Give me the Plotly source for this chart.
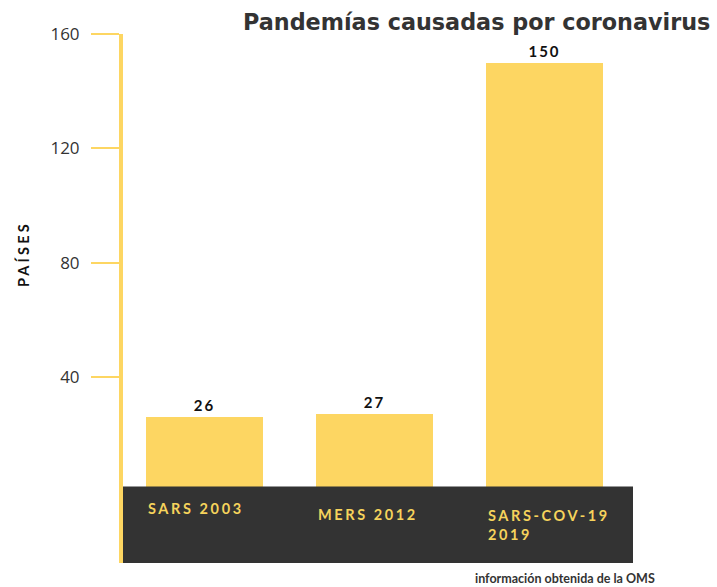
import plotly.graph_objects as go

categories = ["SARS 2003", "MERS 2012", "SARS-COV-19<br>2019"]
values = [26, 27, 150]
tick_values = [40, 80, 120, 160]
tick_labels = ["40", "80", "120", "160"]
band_label_y = [-6.0, -8.1, -11.6]

YELLOW = "#FDD662"
DARK = "#333333"
BAR_WIDTH = 0.69

fig = go.Figure()
fig.add_trace(go.Bar(
    x=[0, 1, 2],
    y=values,
    width=BAR_WIDTH,
    marker=dict(color=YELLOW, line=dict(width=0)),
    text=[f"<span style='letter-spacing:2px'>{v}</span>" for v in values],
    textposition="outside",
    textfont=dict(family="Lato", size=15, color="#111111", weight="bold"),
    cliponaxis=False,
    hoverinfo="skip",
))

# dark band under the bars
fig.add_shape(type="rect", xref="paper", yref="y", x0=0, x1=1, y0=-25, y1=1.75,
              fillcolor=DARK, line=dict(width=0), layer="above")

for i, (cat, yv) in enumerate(zip(categories, band_label_y)):
    fig.add_annotation(
        x=i - BAR_WIDTH / 2, y=yv, xref="x", yref="y",
        text=f"<span style='letter-spacing:2.6px'><b>{cat}</b></span>",
        showarrow=False, xanchor="left", yanchor="middle", align="left",
        font=dict(family="Lato", size=14.5, color="#F6D35C"),
    )

fig.add_annotation(
    x=1.154, y=1.022, xref="paper", yref="paper",
    text="<b>Pandemías causadas por coronavirus</b>",
    showarrow=False, xanchor="right", yanchor="middle",
    font=dict(family="DejaVu Sans", size=22.3, color="#333333"),
)
fig.add_annotation(
    x=-0.197, y=0.583, xref="paper", yref="paper",
    text="<span style='letter-spacing:3.2px'><b>PAÍSES</b></span>",
    showarrow=False, textangle=-90, xanchor="center", yanchor="middle",
    font=dict(family="Lato", size=14.5, color="#111111"),
)
fig.add_annotation(
    x=0.867, y=-0.030, xref="paper", yref="paper",
    text="<b>información obtenida de la OMS</b>",
    showarrow=False, xanchor="center", yanchor="middle",
    font=dict(family="Lato", size=12.5, color="#333333"),
)

fig.update_layout(
    width=717, height=587,
    margin=dict(l=123, r=84, t=34, b=24),
    paper_bgcolor="white", plot_bgcolor="white",
    showlegend=False,
    bargap=0,
    xaxis=dict(range=[-0.48, 2.52], showticklabels=False, showgrid=False,
               zeroline=False, showline=False, ticks=""),
    yaxis=dict(range=[-25, 160], tickvals=tick_values, ticktext=tick_labels,
               showgrid=False, zeroline=False, showline=True, linecolor=YELLOW,
               linewidth=4, ticks="outside", ticklen=28, tickwidth=2,
               tickcolor=YELLOW, ticklabelstandoff=8,
               tickfont=dict(family="Open Sans", size=17, color="#333333")),
)

fig.write_html(
    "out.html",
    config={"displayModeBar": False},
    post_script="document.body.style.margin='0';document.body.style.overflow='hidden';",
)
